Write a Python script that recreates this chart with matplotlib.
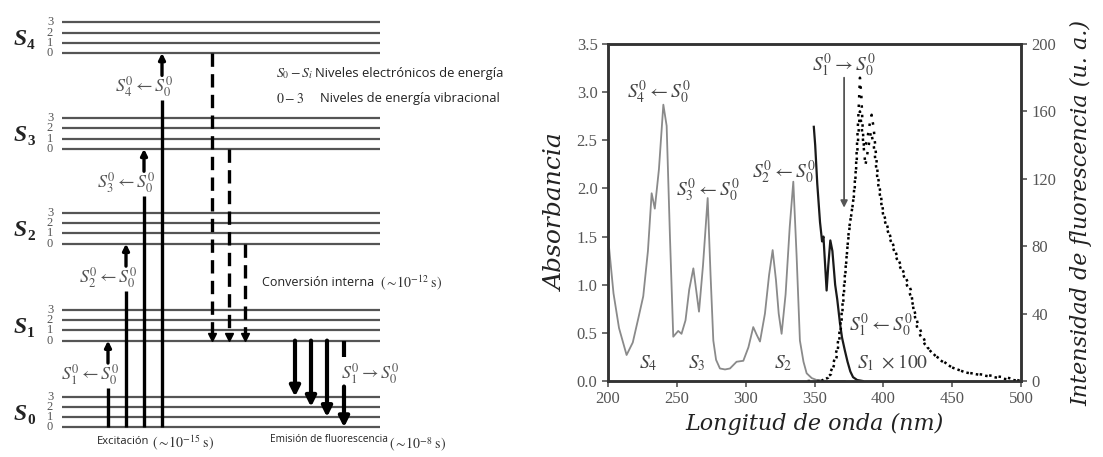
import matplotlib
matplotlib.use("Agg")
import matplotlib.pyplot as plt

plt.rcParams['mathtext.fontset'] = 'stix'
plt.rcParams['font.family'] = ['Liberation Serif', 'DejaVu Serif']

# --- Jablonski diagram data ---
state_subs = ['0', '1', '2', '3', '4']
state_energy = [0.0, 8.5, 18.0, 27.3, 36.7]
vib_levels = [0, 1, 2, 3]
excite_x = [108, 126, 144, 162]          # S0 -> S1..S4
excite_labels = ['$S_1^0 \\leftarrow S_0^0$', '$S_2^0 \\leftarrow S_0^0$',
                 '$S_3^0 \\leftarrow S_0^0$', '$S_4^0 \\leftarrow S_0^0$']
ic_x = [245, 229, 212]                   # S2, S3, S4 -> S1
fluo_x = [295, 311, 327, 344]            # S1(0) -> S0(3, 2, 1, 0)
fluo_target = [3, 2, 1, 0]

# --- absorption / fluorescence spectra ---
abs_wl = [200, 204, 208, 213.5, 218, 222, 225.6, 229, 231.7, 234, 237, 240.2, 242.6, 245, 247.4,
          251, 253.4, 256.3, 259, 262, 264, 266.1, 269, 272.4, 274.5, 276.5, 278.5, 281.3, 285,
          288.6, 293.4, 298.3, 302, 305.5, 308, 310.4, 314, 317, 319.6, 322, 324, 326.1, 329,
          332, 334.6, 337, 339.4, 342, 344.3, 348, 351.6, 360, 372]
abs_a = [1.50, 0.91, 0.55, 0.27, 0.40, 0.65, 0.88, 1.35, 1.95, 1.79, 2.20, 2.87, 2.65, 1.50, 0.46,
         0.52, 0.49, 0.63, 0.95, 1.17, 0.95, 0.72, 1.20, 1.90, 1.10, 0.42, 0.22, 0.13, 0.12,
         0.13, 0.20, 0.21, 0.35, 0.56, 0.48, 0.41, 0.70, 1.10, 1.36, 1.05, 0.70, 0.49, 0.90,
         1.60, 2.07, 1.30, 0.42, 0.20, 0.08, 0.03, 0.01, 0.0, 0.0]

s1_wl = [349.5, 350.5, 352, 354, 355.5, 356.5, 358.8, 360, 361.5, 363, 365, 366.5, 368.5,
         370, 372, 374, 376, 378, 381, 385]
s1_a = [2.64, 2.45, 2.05, 1.65, 1.45, 1.50, 0.94, 1.20, 1.46, 1.35, 1.00, 0.85, 0.60,
        0.45, 0.32, 0.20, 0.10, 0.04, 0.01, 0.0]

fl_wl_a = [345, 355, 360, 363, 366, 368, 370, 372, 374, 376, 378, 380, 382, 383, 384, 385, 386,
           388, 390, 391.5, 393, 396, 400, 405, 410, 415, 420, 422, 425, 430, 436, 443, 450,
           460, 470, 480, 490, 500]
fl_a = [0, 0, 2, 8, 18, 28, 42, 62, 80, 95, 106, 125, 160, 180, 170, 150, 138,
        142, 152, 158, 150, 122, 100, 86, 74, 64, 54, 42, 30, 22, 16, 12, 8,
        5, 4, 3, 2, 0]
fl_wl_b = [355, 362, 366, 369, 371, 373, 375, 377, 379, 381, 383, 385, 387, 389, 391, 393, 396,
           400, 405, 410, 415, 420, 425, 432, 440, 450, 460, 475, 490, 500]
fl_b = [0, 4, 14, 30, 48, 70, 90, 100, 112, 135, 160, 145, 128, 138, 148, 140, 118,
        98, 84, 72, 62, 50, 34, 20, 13, 8, 5, 3, 1, 0]

spectrum_labels = [(237, 3.00, '$S_4^0 \\leftarrow S_0^0$'),
                   (272.8, 1.98, '$S_3^0 \\leftarrow S_0^0$'),
                   (327.8, 2.17, '$S_2^0 \\leftarrow S_0^0$'),
                   (371.4, 3.28, '$S_1^0 \\rightarrow S_0^0$'),
                   (398, 0.58, '$S_1^0 \\leftarrow S_0^0$'),
                   (407, 0.19, '$S_1\\ \\times 100$'),
                   (229.3, 0.19, '$S_4$'),
                   (264.4, 0.19, '$S_3$'),
                   (327.1, 0.19, '$S_2$')]

fig = plt.figure(figsize=(11.03, 4.57), dpi=100)

# ---------------- Jablonski diagram ----------------
axd = fig.add_axes([0, 0, 560 / 1103, 1])
axd.set_xlim(0, 560)
axd.set_ylim(-2.91, 41.89)
axd.axis('off')

level_color = '#555555'
for sub, e in zip(state_subs, state_energy):
    for v in vib_levels:
        axd.plot([62, 380], [e + v, e + v], color=level_color, lw=1.6, solid_capstyle='butt')
        axd.text(50, e + v, str(v), fontsize=9, color='#555555', ha='center', va='center')
    axd.text(20, e + 1.3, 'S', fontsize=17, fontweight='bold', style='italic',
             color='#222222', ha='center', va='center')
    axd.text(27, e + 0.7, sub, fontsize=11, fontweight='bold',
             color='#222222', ha='left', va='center')

sans = ['Open Sans', 'DejaVu Sans']

# excitation: S0(0) -> Sn(0), the label sits in a break of the arrow
for x, e, lab in zip(excite_x, state_energy[1:], excite_labels):
    mid = e - 3.3
    axd.plot([x, x], [0, mid - 1.3], color='k', lw=2.4, solid_capstyle='butt')
    axd.annotate('', xy=(x, e), xytext=(x, mid + 1.1),
                 arrowprops=dict(arrowstyle='-|>', color='k', lw=2.4,
                                 mutation_scale=9, shrinkA=0, shrinkB=0))
    axd.text(x - 18, mid, lab, fontsize=13, color='#555555', ha='center', va='center')

# internal conversion down to S1(0)
for x, e in zip(ic_x, state_energy[2:]):
    axd.plot([x, x], [e, state_energy[1] + 0.55], color='k', lw=2.4,
             linestyle=(0, (4, 2.2)), dash_capstyle='butt')
    axd.plot(x, state_energy[1] + 0.35, marker='v', color='k', markersize=5.5)

# fluorescence S1(0) -> S0(v)
for x, v in zip(fluo_x, fluo_target):
    if v == 0:
        axd.plot([x, x], [state_energy[1], 6.9], color='k', lw=3, solid_capstyle='butt')
        axd.annotate('', xy=(x, 0), xytext=(x, 4.0),
                     arrowprops=dict(arrowstyle='-|>', color='k', lw=3,
                                     mutation_scale=15, shrinkA=0, shrinkB=0))
        axd.text(x - 3, 5.3, '$S_1^0 \\rightarrow S_0^0$', fontsize=13,
                 color='#555555', ha='left', va='center')
    else:
        axd.annotate('', xy=(x, v), xytext=(x, state_energy[1]),
                     arrowprops=dict(arrowstyle='-|>', color='k', lw=3,
                                     mutation_scale=15, shrinkA=0, shrinkB=0))

axd.text(276, 34.7, '$S_0 - S_i$', fontsize=10, color='#333333', ha='left', va='center')
axd.text(315, 34.7, 'Niveles electrónicos de energía', fontsize=9.4, family=sans,
         color='#222222', ha='left', va='center')
axd.text(276, 32.2, '$0 - 3$', fontsize=10, color='#333333', ha='left', va='center')
axd.text(320, 32.2, 'Niveles de energía vibracional', fontsize=9.3, family=sans,
         color='#222222', ha='left', va='center')
axd.text(262, 14.15, 'Conversión interna', fontsize=9, family=sans,
         color='#222222', ha='left', va='center')
axd.text(380, 14.15, '$(\\sim\\!10^{-12}\\ \\mathrm{s})$', fontsize=10,
         color='#333333', ha='left', va='center')
axd.text(97, -1.35, 'Excitación', fontsize=8, family=sans,
         color='#222222', ha='left', va='center')
axd.text(152, -1.45, '$(\\sim\\!10^{-15}\\ \\mathrm{s})$', fontsize=10,
         color='#333333', ha='left', va='center')
axd.text(270, -1.15, 'Emisión de fluorescencia', fontsize=7.3, family=sans,
         color='#222222', ha='left', va='center')
axd.text(389, -1.75, '$(\\sim\\!10^{-8}\\ \\mathrm{s})$', fontsize=10,
         color='#333333', ha='left', va='center')

# ---------------- spectra ----------------
ax = fig.add_axes([608 / 1103, 1 - 381 / 457, 413 / 1103, 337 / 457])
ax2 = ax.twinx()

ax.plot(abs_wl, abs_a, color='#8a8a8a', lw=1.3)
ax.plot(s1_wl, s1_a, color='#1a1a1a', lw=1.6)
ax2.plot(fl_wl_a, fl_a, color='k', lw=1.8, linestyle=(0, (1, 2.8)))
ax2.plot(fl_wl_b, fl_b, color='k', lw=1.8, linestyle=(0, (1, 2.8)))

ax.annotate('', xy=(371.5, 1.80), xytext=(371.5, 3.15),
            arrowprops=dict(arrowstyle='-|>', color='#555555', lw=1.3,
                            mutation_scale=10, shrinkA=0, shrinkB=0))

for x, y, lab in spectrum_labels:
    ax.text(x, y, lab, fontsize=14, color='#444444', ha='center', va='center')

ax.set_xlim(200, 500)
ax.set_ylim(0, 3.5)
ax2.set_ylim(0, 200)
ax.set_xticks([200, 250, 300, 350, 400, 450, 500])
ax.set_yticks([0, 0.5, 1.0, 1.5, 2.0, 2.5, 3.0, 3.5])
ax.set_yticklabels(['0.0', '0.5', '1.0', '1.5', '2.0', '2.5', '3.0', '3.5'])
ax2.set_yticks([0, 40, 80, 120, 160, 200])

for a in (ax, ax2):
    for s in a.spines.values():
        s.set_linewidth(1.8)
        s.set_color('#333333')
    a.tick_params(labelsize=12, labelcolor='#555555', color='#555555',
                  width=1.2, length=4, direction='out')

ax.set_xlabel('Longitud de onda (nm)', fontsize=16, family='DejaVu Serif',
              style='italic', color='#222222', labelpad=4)
ax.set_ylabel('Absorbancia', fontsize=18, family='DejaVu Serif',
              style='italic', color='#222222', labelpad=6)
ax2.set_ylabel('Intensidad de fluorescencia (u. a.)', fontsize=16, family='DejaVu Serif',
               style='italic', color='#222222', labelpad=10)

fig.savefig('out.png', dpi=100)
